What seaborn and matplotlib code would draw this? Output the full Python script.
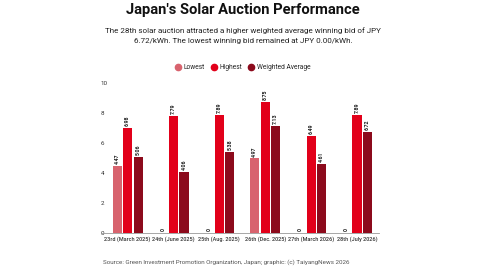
import pandas as pd
import numpy as np
import seaborn as sns
import matplotlib.pyplot as plt
from matplotlib.lines import Line2D


# Daten
auctions = ['23rd (March 2025)', '24th (June 2025)', '25th (Aug. 2025)',
            '26th (Dec. 2025)', '27th (March 2026)', '28th (July 2026)']
lowest = [4.47, 0, 0, 4.97, 0, 0]
highest = [6.98, 7.79, 7.89, 8.75, 6.49, 7.89]
weighted = [5.06, 4.06, 5.38, 7.13, 4.61, 6.72]

series_names = ['Lowest', 'Highest', 'Weighted Average']
colors = ['#d8636e', '#e2001a', '#8c0a1c']


def build_frame():
    rows = []
    for name, vals in zip(series_names, [lowest, highest, weighted]):
        for a, v in zip(auctions, vals):
            rows.append({'auction': a, 'series': name, 'value': v})
    return pd.DataFrame(rows)


def main():
    df = build_frame()
    sns.set_theme(style='white')
    plt.rcParams['font.family'] = ['Roboto', 'DejaVu Sans']

    fig = plt.figure(figsize=(4.8, 2.7), dpi=100)
    ax = fig.add_axes([101 / 480, 1 - 233 / 270, 278 / 480, 150 / 270])

    sns.barplot(data=df, x='auction', y='value', hue='series',
                palette=colors, width=0.69, gap=0.14, ax=ax,
                legend=False, saturation=1, errorbar=None, linewidth=0)

    # Werte-Labels
    for cont in ax.containers:
        for bar in cont:
            h = bar.get_height()
            lbl = '0' if h == 0 else f'{h:.2f}'
            ax.text(bar.get_x() + bar.get_width() / 2, h + 0.12, lbl,
                    rotation=90, ha='center', va='bottom',
                    fontsize=3.8, fontweight='bold', color='#222222')

    ax.set_ylim(0, 10)
    ax.set_xlim(-0.58, 5.48)
    ax.set_yticks([0, 2, 4, 6, 8, 10])
    ax.set_xlabel('')
    ax.set_ylabel('')
    ax.tick_params(axis='y', length=0, pad=0, labelsize=4.5, labelcolor='#333333')
    for t in ax.get_yticklabels():
        t.set_ha('left')
    ax.tick_params(axis='x', length=0, pad=2.5, labelsize=4.0, labelcolor='#333333')
    for t in ax.get_xticklabels():
        t.set_fontweight('medium')

    for s in ['top', 'right', 'left']:
        ax.spines[s].set_visible(False)
    ax.spines['bottom'].set_color('#999999')
    ax.spines['bottom'].set_linewidth(0.6)
    ax.grid(False)

    # Titel und Untertitel
    fig.text(0.506, 0.962, "Japan's Solar Auction Performance", ha='center', va='center',
             fontsize=10.6, fontweight='bold', color='#111111')
    fig.text(0.506, 1 - 35.5 / 270,
             'The 28th solar auction attracted a higher weighted average winning bid of JPY\n'
             '6.72/kWh. The lowest winning bid remained at JPY 0.00/kWh.',
             ha='center', va='center', fontsize=5.8, color='#222222', linespacing=1.95)

    # Legende
    handles = [Line2D([0], [0], marker='o', color='none', markerfacecolor=c,
                      markeredgecolor=c, markersize=4.5, label=n)
               for c, n in zip(colors, series_names)]
    fig.legend(handles=handles, loc='center', bbox_to_anchor=(0.505, 1 - 67.5 / 270),
               ncol=3, frameon=False, fontsize=4.8, handletextpad=0.3,
               columnspacing=0.9, handlelength=1.0)

    fig.text(103 / 480, 1 - 262 / 270,
             'Source: Green Investment Promotion Organization, Japan; graphic: (c) TaiyangNews 2026',
             ha='left', va='center', fontsize=4.5, color='#555555')

    fig.savefig('out.png', dpi=100)


if __name__ == '__main__':
    main()
